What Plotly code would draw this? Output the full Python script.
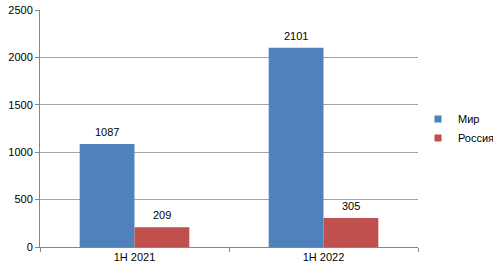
import plotly.graph_objects as go

categories = ["1H 2021", "1H 2022"]
mir = [1087, 2101]
russia = [209, 305]
series_names = ["Мир", "Россия"]
colors = ["#4F81BD", "#C0504D"]
tick_vals = [0, 500, 1000, 1500, 2000, 2500]

font = "Liberation Sans, Arial, sans-serif"

fig = go.Figure()
for name, vals, col in [(series_names[0], mir, colors[0]), (series_names[1], russia, colors[1])]:
    fig.add_bar(x=categories, y=vals, name=name, marker_color=col,
                marker_line_width=0, showlegend=False, offsetgroup=name)
    # legend entry with small square marker
    fig.add_scatter(x=[None], y=[None], mode="markers", name=name,
                    marker=dict(symbol="square", size=7, color=col))

# value labels
for i, c in enumerate(categories):
    for vals, xs in [(mir, -0.145), (russia, 0.145)]:
        fig.add_annotation(x=i + xs, y=vals[i], text=str(vals[i]), showarrow=False,
                           yshift=12, font=dict(size=11, color="#000000"),
                           xref="x", yref="y")

fig.update_layout(
    width=493, height=274,
    margin=dict(l=40, r=75, t=10, b=27, autoexpand=False),
    paper_bgcolor="white", plot_bgcolor="white",
    barmode="group", bargap=0.42, bargroupgap=0,
    font=dict(family=font, size=11, color="#000000"),
    showlegend=True,
    legend=dict(x=1.0, y=0.5, xanchor="left", yanchor="middle",
                font=dict(size=11), itemwidth=30, tracegroupgap=0,
                bgcolor="rgba(0,0,0,0)"),
    xaxis=dict(showline=True, linecolor="#868686", linewidth=1,
               ticks="outside", tickson="boundaries", ticklen=4, tickcolor="#868686",
               showgrid=False, tickfont=dict(size=11)),
    yaxis=dict(range=[0, 2500], tickvals=tick_vals, showline=True, linecolor="#868686",
               linewidth=1, ticks="outside", ticklen=4, tickcolor="#868686",
               showgrid=True, gridcolor="#A6A6A6", gridwidth=1, zeroline=False,
               tickfont=dict(size=11)),
)
fig.write_html("out.html", config={"displayModeBar": False},
               post_script="document.body.style.margin='0';")
